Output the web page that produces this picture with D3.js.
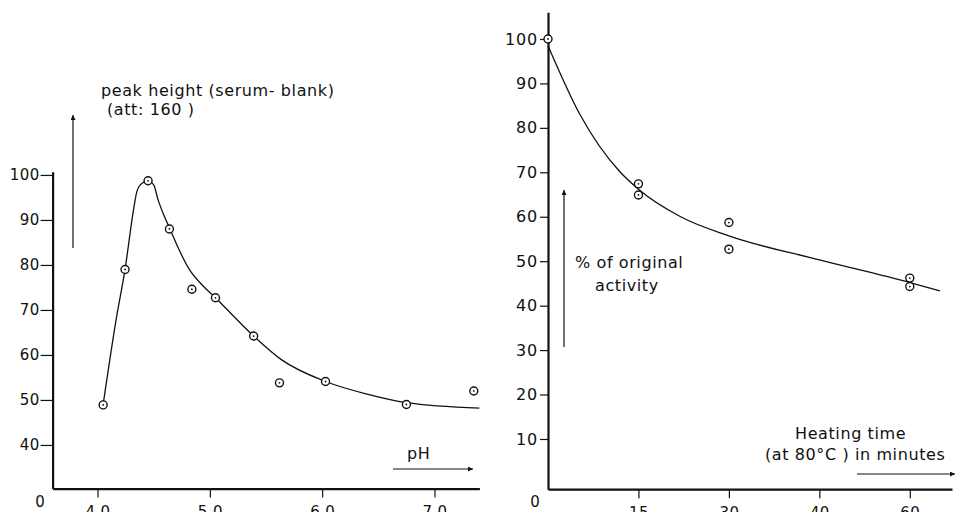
<!DOCTYPE html>
<html>
<head>
<meta charset="utf-8">
<script src="https://cdn.jsdelivr.net/npm/d3@7"></script>
<style>
  html, body { margin: 0; padding: 0; background: #fff; }
  svg { display: block; font-family: "DejaVu Sans", sans-serif; }
  .axis path, .axis line { stroke: #111; }
  .axis text { fill: #111; font-size: 15px; letter-spacing: 0.4px; font-family: "DejaVu Sans", sans-serif; }
  .axis.big text { font-size: 16px; letter-spacing: 0.8px; }
  .lbl { fill: #111; font-size: 16px; letter-spacing: 0.6px; }
</style>
</head>
<body>
<div id="viz"></div>
<script>
// left panel: peak height vs pH
const phTicks = [4.0, 5.0, 6.0, 7.0];
const phTickLabels = ['4.0', '5.0', '6.0', '7.0'];
const peakTicks = [40, 50, 60, 70, 80, 90, 100];
const phPoints = [4.05, 4.245, 4.45, 4.64, 4.84, 5.05, 5.39, 5.62, 6.03, 6.75, 7.35];
const peakPoints = [48.9, 79.0, 98.7, 88.0, 74.6, 72.7, 64.2, 53.8, 54.1, 49.0, 52.0];
// fitted curve
const phCurve = [4.05, 4.17, 4.245, 4.32, 4.35, 4.38, 4.45, 4.50, 4.54, 4.59, 4.645, 4.72, 4.82, 4.93, 5.05, 5.39, 5.64, 6.03, 6.4, 6.75, 7.4];
const peakCurve = [49, 68.5, 79, 92.2, 96.3, 97.8, 98.7, 97.8, 94.4, 91.1, 88, 83.7, 78.9, 75.6, 72.7, 64.2, 58.9, 54.1, 51.3, 49.4, 48.2];

// right panel: % activity vs heating time
const timeTicks = [15, 30, 45, 60];
const timeTickLabels = ['15', '30', '40', '60'];
const actTicks = [10, 20, 30, 40, 50, 60, 70, 80, 90, 100];
const timePoints = [0, 15, 15, 30, 30, 60, 60];
const actPoints = [100, 67.4, 64.9, 58.7, 52.7, 46.2, 44.3];
const timeCurve = [0, 5.3, 12, 15, 22, 30, 45, 60, 65];
const actCurve = [98.5, 83, 70, 66.2, 60, 55.7, 50.3, 45.2, 43.3];

const W = 955, H = 512;
const svg = d3.select('#viz').append('svg').attr('width', W).attr('height', H);

const defs = svg.append('defs');
defs.append('marker').attr('id', 'arr').attr('viewBox', '0 0 10 10')
  .attr('refX', 10).attr('refY', 5).attr('markerWidth', 11).attr('markerHeight', 5)
  .attr('markerUnits', 'userSpaceOnUse').attr('orient', 'auto')
  .append('path').attr('d', 'M0,0L10,5L0,10z').attr('fill', '#111');

function arrow(x1, y1, x2, y2){
  svg.append('line').attr('x1', x1).attr('y1', y1).attr('x2', x2).attr('y2', y2)
    .attr('stroke', '#111').attr('stroke-width', 1.2).attr('marker-end', 'url(#arr)');
}

function label(x, y, txt){
  svg.append('text').attr('class', 'lbl').attr('x', x).attr('y', y).text(txt);
}

function styleAxis(g, tickW){
  g.select('.domain').attr('stroke-width', 2.2);
  g.selectAll('.tick line').attr('stroke-width', tickW);
}

function markers(xs, ys, xScale, yScale){
  const pts = xs.map((x, i) => [x, ys[i]]);
  const g = svg.append('g');
  g.selectAll('circle.o').data(pts).join('circle').attr('class', 'o')
    .attr('cx', d => xScale(d[0])).attr('cy', d => yScale(d[1])).attr('r', 4)
    .attr('fill', '#fff').attr('stroke', '#111').attr('stroke-width', 1.4);
  g.selectAll('circle.c').data(pts).join('circle').attr('class', 'c')
    .attr('cx', d => xScale(d[0])).attr('cy', d => yScale(d[1])).attr('r', 0.9)
    .attr('fill', '#111');
}

function curve(xs, ys, xScale, yScale){
  const line = d3.line().x(d => xScale(d[0])).y(d => yScale(d[1]))
    .curve(d3.curveMonotoneX);
  svg.append('path').attr('d', line(xs.map((x, i) => [x, ys[i]])))
    .attr('fill', 'none').attr('stroke', '#111').attr('stroke-width', 1.3);
}

// ---- left panel ----
const xL = d3.scaleLinear().domain([3.6, 7.4]).range([52.6, 479.4]);
const yL = d3.scaleLinear().domain([30.3, 100.7]).range([488.6, 171.8]);

const axXL = svg.append('g').attr('class', 'axis').attr('transform', `translate(0,${yL(30.3)})`)
  .call(d3.axisBottom(xL).tickValues(phTicks).tickSize(9).tickSizeOuter(0).tickPadding(9)
    .tickFormat((d, i) => phTickLabels[i]));
styleAxis(axXL, 1.2);
const axYL = svg.append('g').attr('class', 'axis').attr('transform', `translate(${xL(3.6)},0)`)
  .call(d3.axisLeft(yL).tickValues(peakTicks).tickSize(12).tickSizeOuter(0).tickPadding(1));
styleAxis(axYL, 1.2);

curve(phCurve, peakCurve, xL, yL);
markers(phPoints, peakPoints, xL, yL);

svg.append('text').attr('x', 40).attr('y', 507)
  .attr('text-anchor', 'middle').attr('font-size', 15).attr('fill', '#111').text('0');

label(101, 96, 'peak height (serum- blank)');
label(107, 115, '(att: 160 )');
arrow(73, 248, 73, 115);
label(407, 459, 'pH');
arrow(393, 469, 473, 469);

// ---- right panel ----
const xR = d3.scaleLinear().domain([0, 67]).range([548, 952]);
const yR = d3.scaleLinear().domain([-1.3, 106]).range([489.2, 12.3]);

const axXR = svg.append('g').attr('class', 'axis').attr('transform', `translate(0,${yR(-1.3)})`)
  .call(d3.axisBottom(xR).tickValues(timeTicks).tickSize(9).tickSizeOuter(0).tickPadding(9)
    .tickFormat((d, i) => timeTickLabels[i]));
styleAxis(axXR, 1.2);
const axYR = svg.append('g').attr('class', 'axis big').attr('transform', `translate(${xR(0)},0)`)
  .call(d3.axisLeft(yR).tickValues(actTicks).tickSize(8).tickSizeOuter(0).tickPadding(2));
styleAxis(axYR, 1.2);

curve(timeCurve, actCurve, xR, yR);
markers(timePoints, actPoints, xR, yR);

svg.append('text').attr('x', 535).attr('y', 507)
  .attr('text-anchor', 'middle').attr('font-size', 15).attr('fill', '#111').text('0');

label(575, 268, '% of original');
label(595, 291, 'activity');
arrow(564, 347, 564, 190);
label(795, 439, 'Heating time');
label(765, 460, '(at 80°C ) in minutes');
arrow(857, 474, 955, 474);
</script>
</body>
</html>
